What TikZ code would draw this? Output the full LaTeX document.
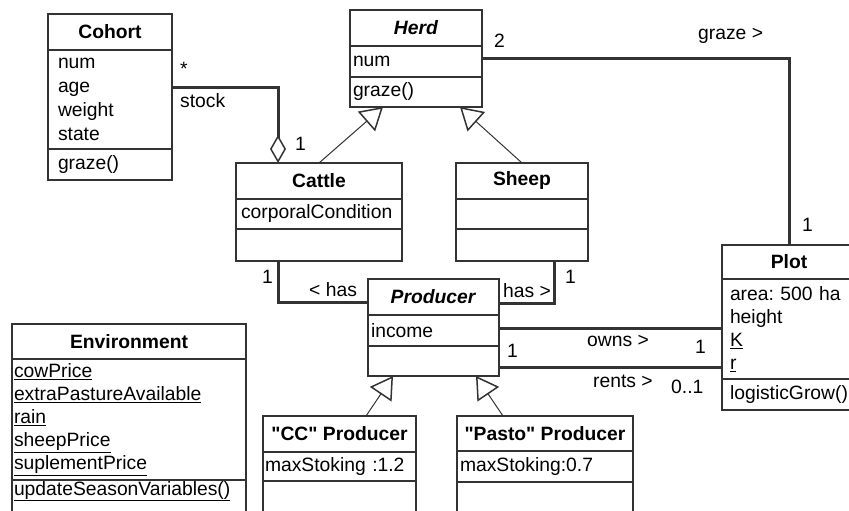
\documentclass[tikz,border=0pt]{standalone}
\usepackage{fontspec}
\setmainfont[Ligatures=TeXOff]{Liberation Sans}
\usetikzlibrary{calc,arrows.meta}
\tikzset{
	umlbox/.style={draw=black!80, line width=1.5pt, anchor=north west, inner sep=0pt, outer sep=0pt, font=\fontsize{19.3}{23}\selectfont},
	umltitle/.style={umlbox, font=\bfseries\fontsize{19.3}{23}\selectfont, align=center},
	umlfield/.style={umlbox, align=left},
	assoc/.style={draw=black!80, line width=3pt},
	inherit/.style={draw=black!80, line width=1pt, -{Triangle[open, length=22pt, width=26pt, line width=1.5pt]}},
	role/.style={anchor=base west, inner sep=0pt, font=\fontsize{19.3}{23}\selectfont},
}

\begin{document}
\begin{tikzpicture}[x=1pt, y=-1pt]
		%%%%% START %%%%%
		
		\useasboundingbox (0,0) rectangle (849,511);
		\clip (0,0) rectangle (849,511);
		
		% Cohort
		\node[umltitle, minimum width=124pt, minimum height=36pt] (cohortT) at (48,14) {Cohort};
		\node[umlfield, minimum height=99pt, text width=104pt, inner xsep=10pt, font=\fontsize{19.3}{24}\selectfont] (cohortA) at (cohortT.south west) {num\\age\\weight\\state};
		\node[umlfield, minimum height=31pt, text width=104pt, inner xsep=10pt] (cohortO) at (cohortA.south west) {graze()};
		
		% Herd
		\node[umltitle, minimum width=132pt, minimum height=36pt] (herdT) at (350,10) {\textit{Herd}};
		\node[umlfield, minimum height=31pt, text width=126pt, inner xsep=3pt] (herdA) at (herdT.south west) {num};
		\node[umlfield, minimum height=30pt, text width=126pt, inner xsep=3pt] (herdO) at (herdA.south west) {graze()};
		
		% Cattle, Sheep
		\node[umltitle, minimum width=166pt, minimum height=36pt] (cattleT) at (236,163) {Cattle};
		\node[umlfield, minimum height=30pt, text width=156pt, inner xsep=5pt] (cattleA) at (cattleT.south west) {corporalCondition};
		\node[umlfield, minimum height=32pt, text width=156pt, inner xsep=5pt] (cattleO) at (cattleA.south west) {};
		
		\node[umltitle, minimum width=132pt, minimum height=36pt] (sheepT) at (456,163) {Sheep};
		\node[umlfield, minimum height=30pt, text width=126pt, inner xsep=3pt] (sheepA) at (sheepT.south west) {};
		\node[umlfield, minimum height=32pt, text width=126pt, inner xsep=3pt] (sheepO) at (sheepA.south west) {};
		
		% Producer
		\node[umltitle, minimum width=131pt, minimum height=36pt] (producerT) at (368,279) {\textit{Producer}};
		\node[umlfield, minimum height=31pt, text width=125pt, inner xsep=3pt] (producerA) at (producerT.south west) {income};
		\node[umlfield, minimum height=30pt, text width=125pt, inner xsep=3pt] (producerO) at (producerA.south west) {};
		
		% Plot
		\node[umltitle, minimum width=134pt, minimum height=34pt] (plotT) at (722,245) {Plot};
		\node[umlfield, minimum height=100pt, text width=118pt, inner xsep=8pt] (plotA) at (plotT.south west) {\mbox{area:\ 500 ha}\\height\\\underline{K}\\\underline{r}};
		\node[umlfield, minimum height=31pt, text width=118pt, inner xsep=8pt] (plotO) at (plotA.south west) {\mbox{logisticGrow()}};
		
		% Environment
		\node[umltitle, minimum width=234pt, minimum height=35pt] (envT) at (12,324) {Environment};
		\node[umlfield, minimum height=121pt, text width=230pt, inner xsep=2pt] (envA) at (envT.south west) {\underline{cowPrice}\\\underline{extraPastureAvailable}\\\underline{rain}\\\underline{sheepPrice}\\\underline{suplementPrice}};
		\node[umlfield, text height=15pt, text depth=18pt, text width=230pt, inner xsep=2pt] (envO) at (envA.south west) {\underline{updateSeasonVariables()}};
		
		% CC and Pasto producers
		\node[umltitle, minimum width=153pt, minimum height=36pt] (ccT) at (263,416) {"CC" Producer};
		\node[umlfield, minimum height=29pt, text width=149pt, inner xsep=2pt] (ccA) at (ccT.south west) {maxStoking :1.2};
		\node[umlfield, minimum height=32pt, text width=149pt, inner xsep=2pt] (ccO) at (ccA.south west) {};
		
		\node[umltitle, minimum width=176pt, minimum height=35pt] (pastoT) at (457,416) {"Pasto" Producer};
		\node[umlfield, minimum height=31pt, text width=170pt, inner xsep=3pt] (pastoA) at (pastoT.south west) {maxStoking:0.7};
		\node[umlfield, minimum height=32pt, text width=170pt, inner xsep=3pt] (pastoO) at (pastoA.south west) {};
		
		% associations
		\draw[assoc, -{Diamond[open, length=28pt, width=16pt, line width=1.5pt]}] ($(cohortA.north east)+(0,38)$) -| ($(cattleT.north west)+(42,0)$);
		\draw[assoc] ($(herdA.north east)+(0,13)$) -| (plotT.north);
		\draw[assoc] ($(cattleO.south west)+(42,0)$) |- ($(producerT.north west)+(0,23)$);
		\draw[assoc] ($(sheepO.south west)+(98,0)$) |- ($(producerT.north east)+(0,24)$);
		
		\coordinate (ownsP) at ($(producerA.north east)+(0,13)$);
		\coordinate (rentsP) at ($(producerO.north east)+(0,21)$);
		\draw[assoc] (ownsP) -- (ownsP -| plotA.west);
		\draw[assoc] (rentsP) -- (rentsP -| plotA.west);
		
		% generalizations
		\draw[inherit] (cattleT.north) -- ($(herdO.south west)+(33,0)$);
		\draw[inherit] (sheepT.north) -- ($(herdO.south west)+(110,0)$);
		\draw[inherit] ($(ccT.north west)+(103,0)$) -- ($(producerO.south west)+(25,0)$);
		\draw[inherit] ($(pastoT.north west)+(46,0)$) -- ($(producerO.south west)+(108,0)$);
		
		% roles and multiplicities
		\node[role] (mStar) at (180,76) {*};
		\node[role] (rStock) at (180,107) {stock};
		\node[role] (mCattle) at (295,150) {1};
		\node[role] (mHerd) at (494,48) {2};
		\node[role] (rGraze) at (698,40) {graze >};
		\node[role] (mPlot) at (802,231) {1};
		\node[role] (mCattleP) at (262,283) {1};
		\node[role] (rHasL) at (309,296) {< has};
		\node[role] (rHasR) at (503,297) {has >};
		\node[role] (mSheepP) at (565,283) {1};
		\node[role] (rOwns) at (587,346) {owns >};
		\node[role] (mOwns) at (695,353) {1};
		\node[role] (mProd) at (507,357) {1};
		\node[role] (rRents) at (593,387) {rents >};
		\node[role] (mRents) at (671,393) {0..1};
		
		%%%%% END %%%%%
\end{tikzpicture}
\end{document}
